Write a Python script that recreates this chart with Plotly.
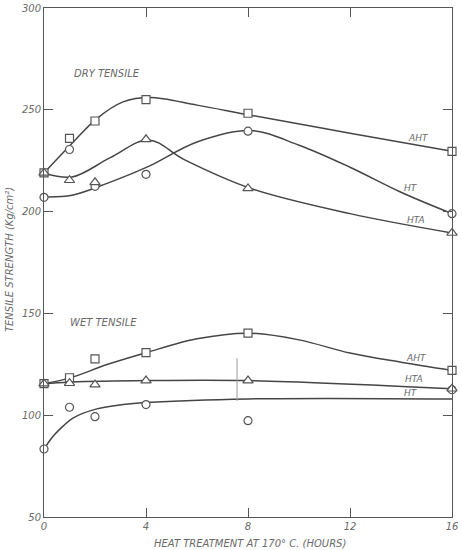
import plotly.graph_objects as go

# ---- data ----
hours = [0, 1, 2, 4, 8, 16]

dry_aht = [219, 236, 244.5, 255, 248.3, 229.6]
dry_ht = [207, 230.5, 212.4, 218.3, 239.5, 199]
dry_hta = [219, 215.4, 214.4, 235.5, 211.4, 189.5]

wet_aht = [115.5, 118.4, 127.7, 130.7, 140.3, 122]
wet_ht = [83.4, 103.9, 99.3, 105.2, 97.3, 112.5]
wet_hta = [115.5, 115.7, 115, 117, 117, 113]

# hand-drawn fitted curves (anchor points)
dry_aht_fit_x = [0, 1.15, 2.07, 3.1, 4.16, 6, 8, 12, 16]
dry_aht_fit_y = [219, 234.2, 245.7, 253.9, 256, 252.3, 247.6, 238.5, 229.6]
dry_ht_fit_x = [0, 1.1, 2.5, 4.1, 6, 8.1, 10, 12, 14, 16]
dry_ht_fit_y = [207.2, 208, 214, 222.2, 234.2, 239.8, 232.6, 221.8, 209.5, 199]
dry_hta_fit_x = [0, 1.1, 2.6, 4.1, 5.5, 8.1, 12, 16]
dry_hta_fit_y = [219, 217, 226.5, 235.2, 225.5, 211.4, 199, 189.5]

wet_aht_fit_x = [0, 1, 2.5, 4, 6, 8, 10, 12, 14, 16]
wet_aht_fit_y = [115.5, 118.2, 125, 130.7, 137.5, 140.3, 137, 130.5, 126, 122]
wet_hta_fit_x = [0, 1, 4, 8, 16]
wet_hta_fit_y = [115.5, 116.2, 117, 117, 113]
wet_ht_fit_x = [0, 0.38, 0.77, 1.15, 2.07, 3.1, 4, 8, 16]
wet_ht_fit_y = [83.4, 90, 94.9, 98.7, 103.1, 105.2, 106.2, 108, 108]

x_ticks = [0, 4, 8, 12, 16]
y_ticks = [50, 100, 150, 200, 250, 300]

curve_labels = [
    ("AHT", 14.7, 236), ("HT", 14.4, 211.4), ("HTA", 14.6, 195.7),
    ("AHT", 14.6, 127.9), ("HTA", 14.5, 117.6), ("HT", 14.4, 111.1),
]
group_labels = [("DRY TENSILE", 1.1, 268), ("WET TENSILE", 0.95, 145.6)]

LINE = "#454545"
TEXT = "#6a6a6a"
FONT = "DejaVu Sans"

fig = go.Figure()

fits = [
    (dry_aht_fit_x, dry_aht_fit_y), (dry_ht_fit_x, dry_ht_fit_y), (dry_hta_fit_x, dry_hta_fit_y),
    (wet_aht_fit_x, wet_aht_fit_y), (wet_hta_fit_x, wet_hta_fit_y), (wet_ht_fit_x, wet_ht_fit_y),
]
for fx, fy in fits:
    fig.add_trace(go.Scatter(x=fx, y=fy, mode="lines",
                             line=dict(color=LINE, width=1.5, shape="spline", smoothing=1.0),
                             hoverinfo="skip", showlegend=False, cliponaxis=False))

pts = [
    (dry_aht, "square"), (dry_ht, "circle"), (dry_hta, "triangle-up"),
    (wet_aht, "square"), (wet_ht, "circle"), (wet_hta, "triangle-up"),
]
for ys, sym in pts:
    fig.add_trace(go.Scatter(x=hours, y=ys, mode="markers", cliponaxis=False,
                             marker=dict(symbol=sym, size=8 if sym != "triangle-up" else 9,
                                         color="white", line=dict(color="#555", width=1.2)),
                             showlegend=False))

for txt, x, y in curve_labels:
    fig.add_annotation(x=x, y=y, text=txt, showarrow=False,
                       font=dict(family=FONT, size=9, color=TEXT, style="italic"))
for txt, x, y in group_labels:
    fig.add_annotation(x=x, y=y, text=txt, showarrow=False, xanchor="left",
                       font=dict(family=FONT, size=10, color=TEXT, style="italic"))

# faint scan mark
fig.add_shape(type="line", x0=7.57, x1=7.57, y0=107, y1=128,
              line=dict(color="#9a9a9a", width=1))

fig.add_annotation(xref="paper", yref="paper", x=0.505, y=-0.052, yanchor="middle",
                   text="HEAT TREATMENT AT 170° C. (HOURS)", showarrow=False,
                   font=dict(family=FONT, size=10, color=TEXT, style="italic"))
fig.add_annotation(xref="paper", yref="paper", x=-0.083, y=0.505, xanchor="center",
                   text="TENSILE STRENGTH (Kg/cm²)", textangle=-90, showarrow=False,
                   font=dict(family=FONT, size=10, color=TEXT, style="italic"))

axis_common = dict(showline=True, linecolor="#555", linewidth=1, mirror="allticks",
                   ticks="inside", ticklen=9, tickcolor="#555", showgrid=False,
                   zeroline=False, automargin=False,
                   tickfont=dict(family=FONT, size=10, color=TEXT, style="italic"))

fig.update_xaxes(range=[0, 16], tickvals=x_ticks, **axis_common)
fig.update_yaxes(range=[50, 300], tickvals=y_ticks, **axis_common)

fig.update_layout(width=462, height=550, margin=dict(l=44, r=10, t=8, b=33),
                  plot_bgcolor="white", paper_bgcolor="white")

fig.write_html("out.html", config={"displayModeBar": False},
               post_script="document.body.style.margin='0';document.body.style.overflow='hidden';")
